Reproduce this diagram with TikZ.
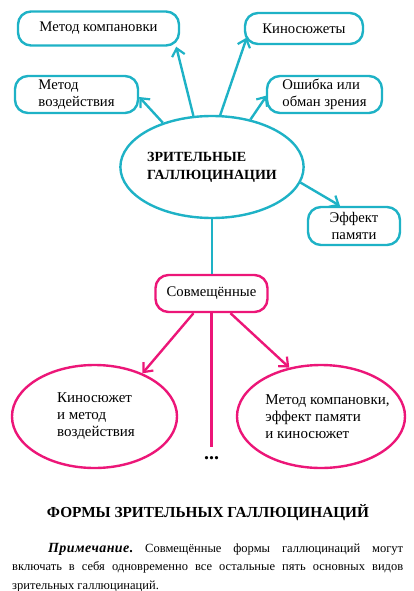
\documentclass[tikz,border=0pt]{standalone}
\usepackage{fontspec}
\setmainfont{Liberation Serif}
\usetikzlibrary{arrows.meta,shapes.geometric}
\definecolor{cyanline}{RGB}{30,178,198}
\definecolor{pinkline}{RGB}{236,22,120}
\tikzset{
  cbox/.style={draw=cyanline, line width=2.4pt, rounded corners=13pt, inner sep=0pt, fill=white,
    font=\fontsize{14.7}{17}\selectfont},
  pbox/.style={draw=pinkline, line width=2.4pt, rounded corners=13pt, inner sep=0pt, fill=white,
    font=\fontsize{14.7}{17}\selectfont},
  cell/.style={draw=cyanline, line width=2.4pt, ellipse, inner sep=0pt, fill=white},
  pell/.style={draw=pinkline, line width=2.4pt, ellipse, inner sep=0pt, fill=white},
  ptext/.style={inner sep=0pt, align=left, font=\fontsize{15}{17}\selectfont},
  carrow/.style={draw=cyanline, line width=2.4pt, -{Straight Barb[length=7.5pt,width=13pt,line width=2.2pt]}},
  parrow/.style={draw=pinkline, line width=2.4pt, -{Straight Barb[length=7.5pt,width=13pt,line width=2.2pt]}},
  cline/.style={draw=cyanline, line width=2.4pt},
  pline/.style={draw=pinkline, line width=2.4pt},
}
\begin{document}
\begin{tikzpicture}[x=1pt,y=-1pt]
\useasboundingbox (0,0) rectangle (413,591);
% central ellipse
\node[cell, minimum width=178pt, minimum height=102pt, align=left,
  font=\bfseries\fontsize{14}{18}\selectfont] (ell) at (212,167) {ЗРИТЕЛЬНЫЕ\\ГАЛЛЮЦИНАЦИИ};
% cyan boxes
\node[cbox, minimum width=161pt, minimum height=34pt] (mk) at (98.5,28.5) {Метод компановки};
\node[cbox, minimum width=118pt, minimum height=31pt] (kin) at (304,28.5) {Киносюжеты};
\node[cbox, minimum width=123pt, minimum height=37pt, align=left] (mv) at (76.5,94.5) {Метод\\воздействия};
\node[cbox, minimum width=115pt, minimum height=37pt, align=left] (osh) at (324.5,94.5) {Ошибка или\\обман зрения};
\node[cbox, minimum width=92pt, minimum height=38pt, align=center] (eff) at (354,226) {Эффект\\памяти};
% pink
\node[pbox, minimum width=112pt, minimum height=37pt] (sov) at (211.5,293.5) {Совмещённые};
\node[pell, minimum width=165pt, minimum height=103pt] (le) at (94.5,416.5) {};
\node[ptext] (letext) at (96,416.5) {Киносюжет\\и метод\\воздействия};
\node[pell, minimum width=168pt, minimum height=103pt] (re) at (321,416.5) {};
\node[ptext] (retext) at (327.5,416.5) {Метод компановки,\\эффект памяти\\и киносюжет};
\coordinate (lineend) at (211.5,447);
\node[anchor=base, inner sep=0pt, font=\bfseries\fontsize{20}{20}\selectfont] (dots) at (211.5,459) {...};
% cyan connectors
\draw[carrow] (ell.110) -- ([xshift=-4pt]mk.south east);
\draw[carrow] (ell.81) -- ([xshift=3pt,yshift=-9pt]kin.west);
\draw[carrow] (ell.138) -- ([yshift=-2.5pt]mv.east);
\draw[carrow] (ell.51) -- ([xshift=1pt,yshift=-1pt]osh.west);
\draw[carrow] (ell.-10) -- ([xshift=-14pt]eff.north);
\draw[cline] (ell.south) -- (ell.south |- sov.north);
% pink connectors
\draw[parrow] ([xshift=-18pt]sov.south) -- (le.42);
\draw[parrow] ([xshift=19pt]sov.south) -- (re.123);
\draw[pline] (sov.south) -- (lineend);
% title and note
\node[anchor=base, font=\bfseries\fontsize{15.3}{18}\selectfont] (title) at (208,517) {ФОРМЫ ЗРИТЕЛЬНЫХ ГАЛЛЮЦИНАЦИЙ};
\node[anchor=north west, inner sep=0pt, text width=391pt, align=justify,
  font=\fontsize{12.5}{18.5}\selectfont] (note) at (12,543)
  {\frenchspacing\hyphenpenalty=10000\hspace*{36pt}{\bfseries\itshape\fontsize{14}{18.5}\selectfont\addfontfeature{LetterSpace=3}Примечание.} Совмещённые формы галлюцинаций могут\linebreak
   включать в себя одновременно все остальные пять основных видов\linebreak
   зрительных галлюцинаций.};
\end{tikzpicture}
\end{document}
